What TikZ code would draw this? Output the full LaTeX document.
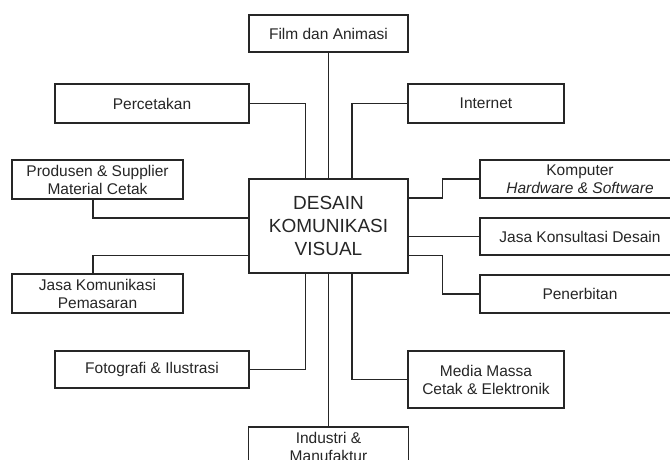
\documentclass[tikz,border=0pt]{standalone}
\usepackage{fontspec}
\setmainfont{Liberation Sans}
\usetikzlibrary{calc}
\begin{document}
\begin{tikzpicture}[x=1pt,y=-1pt,
  box/.style={draw=black!85, line width=1.4pt, inner sep=0pt, align=center,
    text=black!85, font=\fontsize{15.5}{18}\selectfont},
  link/.style={draw=black!85, line width=1.4pt}]
\useasboundingbox (0,0) rectangle (670,459);
\fill[white] (0,0) rectangle (670,459);
\begin{scope}
\clip (0,0) rectangle (670,459);
% centre
\node[box, minimum width=159pt, minimum height=94pt,
  font=\fontsize{19}{23}\selectfont] (dkv) at (328.5,226) {DESAIN\\KOMUNIKASI\\VISUAL};
% boxes
\node[box, minimum width=159pt, minimum height=37pt] (film) at (328.5,33.5) {Film dan Animasi};
\node[box, minimum width=194pt, minimum height=39pt] (perc) at (152,103.5) {Percetakan};
\node[box, minimum width=156pt, minimum height=39pt] (inet) at (486,103.5) {Internet};
\node[box, minimum width=171pt, minimum height=39pt] (prod) at (97.5,179.5) {Produsen \& Supplier\\Material Cetak};
\node[box, minimum width=200pt, minimum height=38pt] (komp) at (580,179) {Komputer\\\textit{Hardware \& Software}};
\node[box, minimum width=200pt, minimum height=37pt] (jkon) at (580,236.5) {Jasa Konsultasi Desain};
\node[box, minimum width=200pt, minimum height=38pt] (pen) at (580,294) {Penerbitan};
\node[box, minimum width=171pt, minimum height=39pt] (jkom) at (97.5,293.5) {Jasa Komunikasi\\Pemasaran};
\node[box, minimum width=194pt, minimum height=37pt] (foto) at (152,369.5) {Fotografi \& Ilustrasi};
\node[box, minimum width=156pt, minimum height=57pt] (media) at (486,379.5) {Media Massa\\Cetak \& Elektronik};
\node[box, minimum width=160pt, minimum height=39pt] (ind) at (328.5,446.5) {Industri \&\\Manufaktur};
% attach points on the centre box
\coordinate (t1) at ($(dkv.north)+(-23,0)$);
\coordinate (t3) at ($(dkv.north)+(23.5,0)$);
\coordinate (b1) at ($(dkv.south)+(-23,0)$);
\coordinate (b3) at ($(dkv.south)+(23.5,0)$);
\coordinate (l1) at ($(dkv.west)+(0,-8)$);
\coordinate (l2) at ($(dkv.west)+(0,29.5)$);
\coordinate (r1) at ($(dkv.east)+(0,-28)$);
\coordinate (r2) at ($(dkv.east)+(0,10.5)$);
\coordinate (r3) at ($(dkv.east)+(0,29.5)$);
% connectors
\draw[link] (film.south) -- (film.south |- dkv.north);
\draw[link] (perc.east) -| (t1);
\draw[link] (inet.west) -| (t3);
\draw[link] (l1) -| ([xshift=-4.5pt]prod.south);
\draw[link] (l2) -| ([xshift=-4.5pt]jkom.north);
\draw[link] (r1) -- ($(r1)+(34,0)$) |- (komp.west);
\draw[link] (r2) -- (r2 -| jkon.west);
\draw[link] (r3) -- ($(r3)+(34,0)$) |- (pen.west);
\draw[link] (foto.east) -| (b1);
\draw[link] (ind.north) -- (ind.north |- dkv.south);
\draw[link] (media.west) -| (b3);
\end{scope}
\end{tikzpicture}
\end{document}
